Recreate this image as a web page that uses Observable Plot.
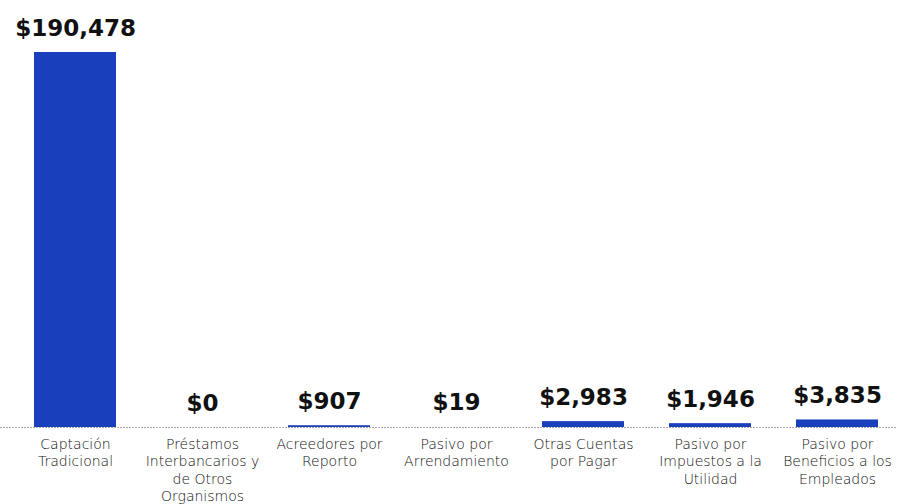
<!DOCTYPE html>
<html><head><meta charset="utf-8">
<script src="https://cdn.jsdelivr.net/npm/d3@7"></script>
<script src="https://cdn.jsdelivr.net/npm/@observablehq/plot@0.6"></script>
<style>body{margin:0;background:#fff}</style>
</head><body><div id="chart"></div>
<script>
const categories = ["Captación Tradicional","Préstamos Interbancarios y de Otros Organismos","Acreedores por Reporto","Pasivo por Arrendamiento","Otras Cuentas por Pagar","Pasivo por Impuestos a la Utilidad","Pasivo por Beneficios a los Empleados"];
const tickLabels = ["Captación\nTradicional","Préstamos\nInterbancarios y\nde Otros\nOrganismos","Acreedores por\nReporto","Pasivo por\nArrendamiento","Otras Cuentas\npor Pagar","Pasivo por\nImpuestos a la\nUtilidad","Pasivo por\nBeneficios a los\nEmpleados"];
const values = [190478, 0, 907, 19, 2983, 1946, 3835];
const data = categories.map((c,i)=>({cat:c, value:values[i]}));
const fmt = v => "$" + d3.format(",")(v);
const chart = Plot.plot({
  width: 897, height: 504,
  marginTop: 52, marginBottom: 77, marginLeft: 0, marginRight: 0,
  x: {domain: categories, range: [33, 879], paddingInner: 0.355, paddingOuter: 0, axis: null},
  y: {domain: [0, 190478], axis: null},
  style: {fontFamily: "'DejaVu Sans', sans-serif"},
  marks: [
    Plot.barY(data, {x: "cat", y: "value", fill: "#1a3fbd"}),
    Plot.ruleY([0], {stroke: "#aaa", strokeWidth: 1, strokeDasharray: "2,1"}),
    Plot.text(data, {x: "cat", y: "value", text: d => fmt(d.value), lineAnchor: "bottom", dy: -17, fontSize: 23, fontWeight: "bold", fill: "#111", fontFamily: "'DejaVu Sans', sans-serif"}),
    Plot.axisX({domain: categories, label: null, tickSize: 0, tickPadding: 9, fontSize: 14, fontWeight: 300, lineHeight: 1.25, fill: "#111", tickFormat: d => tickLabels[categories.indexOf(d)], textOverflow: null, lineWidth: Infinity})
  ]
});
document.getElementById("chart").append(chart);
</script>
</body></html>
